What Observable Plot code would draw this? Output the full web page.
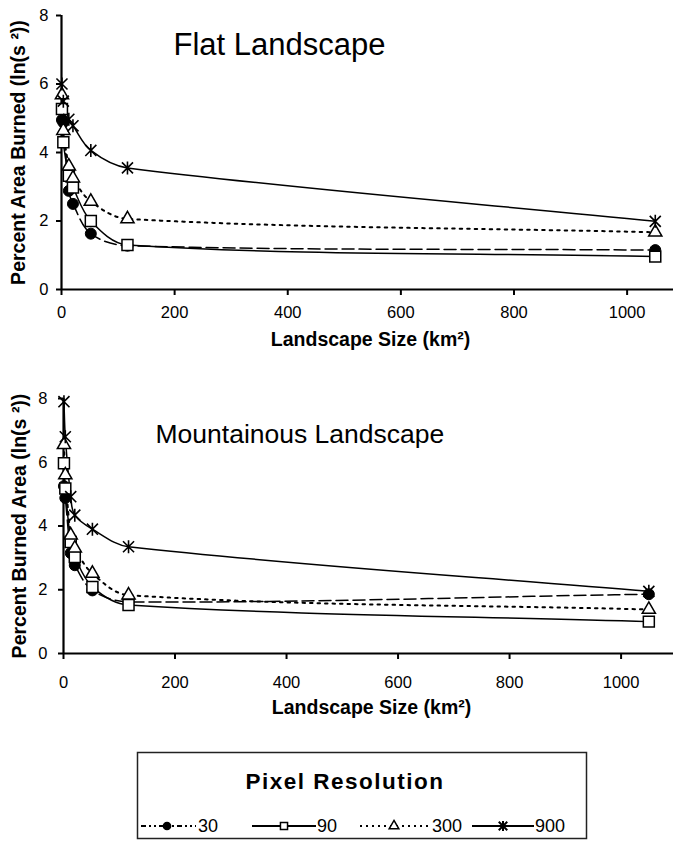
<!DOCTYPE html>
<html>
<head>
<meta charset="utf-8">
<script src="https://cdn.jsdelivr.net/npm/d3@7"></script>
<script src="https://cdn.jsdelivr.net/npm/@observablehq/plot@0.6"></script>
<style>
  html, body { margin: 0; padding: 0; background: #fff; }
  #root { width: 673px; font-family: "Liberation Sans", Arial, sans-serif; }
  #root svg { display: block; }
  .panel g[aria-label="x-axis"] .tick line,
  .panel g[aria-label="y-axis"] .tick line,
  .panel g[aria-label="x-axis tick"] path,
  .panel g[aria-label="y-axis tick"] path { stroke-width: 2px; }
</style>
</head>
<body>
<div id="root"></div>
<script>
// ---------- data ----------
const sizes = [0.81, 3.24, 12.96, 20.25, 51.84, 116.64, 1049.76]; // landscape size (km²)
const resolutions = ["30", "90", "300", "900"];                    // pixel resolution

// Flat landscape: ln(s²) of percent area burned
const flat30  = [4.95, 4.88, 2.88, 2.50, 1.63, 1.28, 1.15];
const flat90  = [5.27, 4.30, 3.32, 2.98, 2.00, 1.30, 0.96];
const flat300 = [5.68, 4.64, 3.60, 3.25, 2.57, 2.06, 1.67];
const flat900 = [6.00, 5.50, 4.97, 4.78, 4.06, 3.55, 1.99];

// Mountainous landscape
const mount30  = [5.25, 4.88, 3.15, 2.77, 1.98, 1.62, 1.86];
const mount90  = [5.97, 5.18, 3.50, 3.03, 2.09, 1.52, 1.00];
const mount300 = [6.55, 5.60, 3.71, 3.30, 2.51, 1.83, 1.38];
const mount900 = [7.90, 6.80, 4.92, 4.34, 3.90, 3.35, 1.95];

const xTicks = [0, 200, 400, 600, 800, 1000];
const yTicks = [0, 2, 4, 6, 8];

const flatTitle = "Flat Landscape";
const mountTitle = "Mountainous Landscape";
const flatYLabel = "Percent Area Burned (ln(s \u00B2))";
const mountYLabel = "Percent Burned Area (ln(s \u00B2))";
const xLabel = "Landscape Size (km\u00B2)";
const legendTitle = "Pixel Resolution";

// ---------- styles ----------
const FONT = '"Liberation Sans", Arial, sans-serif';
const asterisk = {
  draw(ctx, size) {
    const r = Math.sqrt(size / Math.PI);
    const a = r * 0.85;
    ctx.moveTo(0, -r); ctx.lineTo(0, r);
    ctx.moveTo(-a, -a); ctx.lineTo(a, a);
    ctx.moveTo(-a, a); ctx.lineTo(a, -a);
  }
};
// spreadsheet-style smoothing: bezier with tangent from neighbours, handle length ~ segment/3
const smoothCurve = (context) => {
  let pts;
  return {
    areaStart() {}, areaEnd() {},
    lineStart() { pts = []; },
    point(x, y) { pts.push([+x, +y]); },
    lineEnd() {
      const n = pts.length;
      if (!n) return;
      context.moveTo(pts[0][0], pts[0][1]);
      if (n === 1) return;
      const tan = pts.map((p, i) => {
        const a = pts[Math.max(0, i - 1)], b = pts[Math.min(n - 1, i + 1)];
        const dx = b[0] - a[0], dy = b[1] - a[1];
        const L = Math.hypot(dx, dy) || 1;
        return [dx / L, dy / L];
      });
      for (let i = 0; i < n - 1; i++) {
        const p = pts[i], q = pts[i + 1];
        const d = Math.hypot(q[0] - p[0], q[1] - p[1]) / 3;
        context.bezierCurveTo(p[0] + tan[i][0] * d, p[1] + tan[i][1] * d,
          q[0] - tan[i + 1][0] * d, q[1] - tan[i + 1][1] * d, q[0], q[1]);
      }
    }
  };
};
const lineStyle = {
  "30":  {strokeWidth: 1.5, strokeDasharray: "12,5"},
  "90":  {strokeWidth: 1.5},
  "300": {strokeWidth: 2, strokeDasharray: "2.5,5"},
  "900": {strokeWidth: 1.5}
};
const markStyle = {
  "30":  {symbol: "circle", r: 5.5, fill: "black", stroke: "black", strokeWidth: 1},
  "90":  {symbol: "square", r: 6.2, fill: "white", stroke: "black", strokeWidth: 1.5},
  "300": {symbol: "triangle", r: 4.9, fill: "white", stroke: "black", strokeWidth: 1.5},
  "900": {symbol: asterisk, r: 6.5, fill: "none", stroke: "black", strokeWidth: 1.6}
};

function toRows(series) {
  return resolutions.flatMap((res, i) => sizes.map((s, j) => ({res, size: s, value: series[i][j]})));
}

function panel(o) {
  const data = toRows(o.series);
  const marks = [
    Plot.ruleY([0], {stroke: "black", strokeWidth: 2.2}),
    Plot.ruleX([0], {stroke: "black", strokeWidth: 2.2})
  ];
  for (const res of resolutions) {
    marks.push(Plot.line(data.filter(d => d.res === res), {
      x: "size", y: "value", curve: smoothCurve, stroke: "black", ...lineStyle[res]
    }));
  }
  for (const res of resolutions) {
    marks.push(Plot.dot(data.filter(d => d.res === res), {
      x: "size", y: "value", ...markStyle[res]
    }));
  }
  marks.push(Plot.text([o.title], {frameAnchor: "top-left", dx: o.titleDx, dy: o.titleDy,
    textAnchor: "start", lineAnchor: "middle", fontSize: o.titleSize, fill: "black"}));
  marks.push(Plot.text([o.yLabel], {frameAnchor: "left", dx: o.yLabelDx, rotate: -90,
    textAnchor: "middle", lineAnchor: "middle", fontSize: 19.5, fontWeight: "bold", fill: "black",
    letterSpacing: "1.8px"}));
  marks.push(Plot.text([xLabel], {frameAnchor: "bottom", dx: 3, dy: o.xLabelDy,
    textAnchor: "middle", lineAnchor: "middle", fontSize: 19.5, fontWeight: "bold", fill: "black",
    letterSpacing: "1.8px"}));

  const chart = Plot.plot({
    width: 673, height: o.height,
    marginLeft: o.marginLeft, marginRight: 0, marginTop: o.marginTop, marginBottom: o.marginBottom,
    style: {fontFamily: FONT, fontSize: "16.5px", color: "black", background: "white", overflow: "visible"},
    x: {domain: [0, o.xMax], ticks: xTicks, tickFormat: d3.format("d"), tickSize: 6, tickPadding: o.xTickPadding, label: null},
    y: {domain: [0, 8], ticks: yTicks, tickSize: 5, tickPadding: o.yTickPadding, label: null},
    marks
  });
  const div = document.createElement("div");
  div.className = "panel";
  div.appendChild(chart);
  return div;
}

const root = document.getElementById("root");
root.appendChild(panel({
  series: [flat30, flat90, flat300, flat900],
  title: flatTitle, yLabel: flatYLabel, titleSize: 31,
  height: 370, marginLeft: 61, marginTop: 15, marginBottom: 81, xMax: 1082,
  xTickPadding: 11, yTickPadding: 8,
  titleDx: 112, titleDy: 30, yLabelDx: -42.5, xLabelDy: 50
}));
root.appendChild(panel({
  series: [mount30, mount90, mount300, mount900],
  title: mountTitle, yLabel: mountYLabel, titleSize: 26.5,
  height: 370, marginLeft: 63, marginTop: 28, marginBottom: 87, xMax: 1094,
  xTickPadding: 17, yTickPadding: 11,
  titleDx: 92, titleDy: 36, yLabelDx: -43.5, xLabelDy: 54
}));

// ---------- legend ----------
const legendItems = [
  {res: "30",  x1: 141, x2: 196, mx: 167, tx: 198, dash: "5,3,2,3,2,3"},
  {res: "90",  x1: 252, x2: 316, mx: 284, tx: 317, dash: null},
  {res: "300", x1: 360, x2: 430, mx: 394, tx: 432, dash: "2,4"},
  {res: "900", x1: 472, x2: 534, mx: 503, tx: 535, dash: null}
];
const legendMarkR = {"30": 3.6, "90": 4.0, "300": 3.6, "900": 5};
const lg = d3.create("svg").attr("width", 673).attr("height", 101)
  .style("font-family", FONT).style("background", "white");
lg.append("rect").attr("x", 137.5).attr("y", 12.5).attr("width", 449).attr("height", 86)
  .attr("fill", "white").attr("stroke", "#222").attr("stroke-width", 1.5);
lg.append("text").attr("x", 345).attr("y", 49).attr("text-anchor", "middle")
  .attr("font-size", 22.5).attr("font-weight", "bold").attr("letter-spacing", "1.5px").text(legendTitle);
const symbolType = {"30": d3.symbolCircle, "90": d3.symbolSquare, "300": d3.symbolTriangle, "900": asterisk};
for (const it of legendItems) {
  const y = 86;
  lg.append("line").attr("x1", it.x1).attr("x2", it.x2).attr("y1", y).attr("y2", y)
    .attr("stroke", "black").attr("stroke-width", it.res === "300" ? 1.8 : 2)
    .attr("stroke-dasharray", it.dash);
  const ms = markStyle[it.res];
  const r = legendMarkR[it.res];
  lg.append("path").attr("transform", `translate(${it.mx},${y})`)
    .attr("d", d3.symbol(symbolType[it.res], Math.PI * r * r)())
    .attr("fill", ms.fill).attr("stroke", "black").attr("stroke-width", it.res === "900" ? 2 : 1.5);
  lg.append("text").attr("x", it.tx).attr("y", y).attr("dy", "0.35em")
    .attr("font-size", 18).text(it.res);
}
root.appendChild(lg.node());
</script>
</body>
</html>
